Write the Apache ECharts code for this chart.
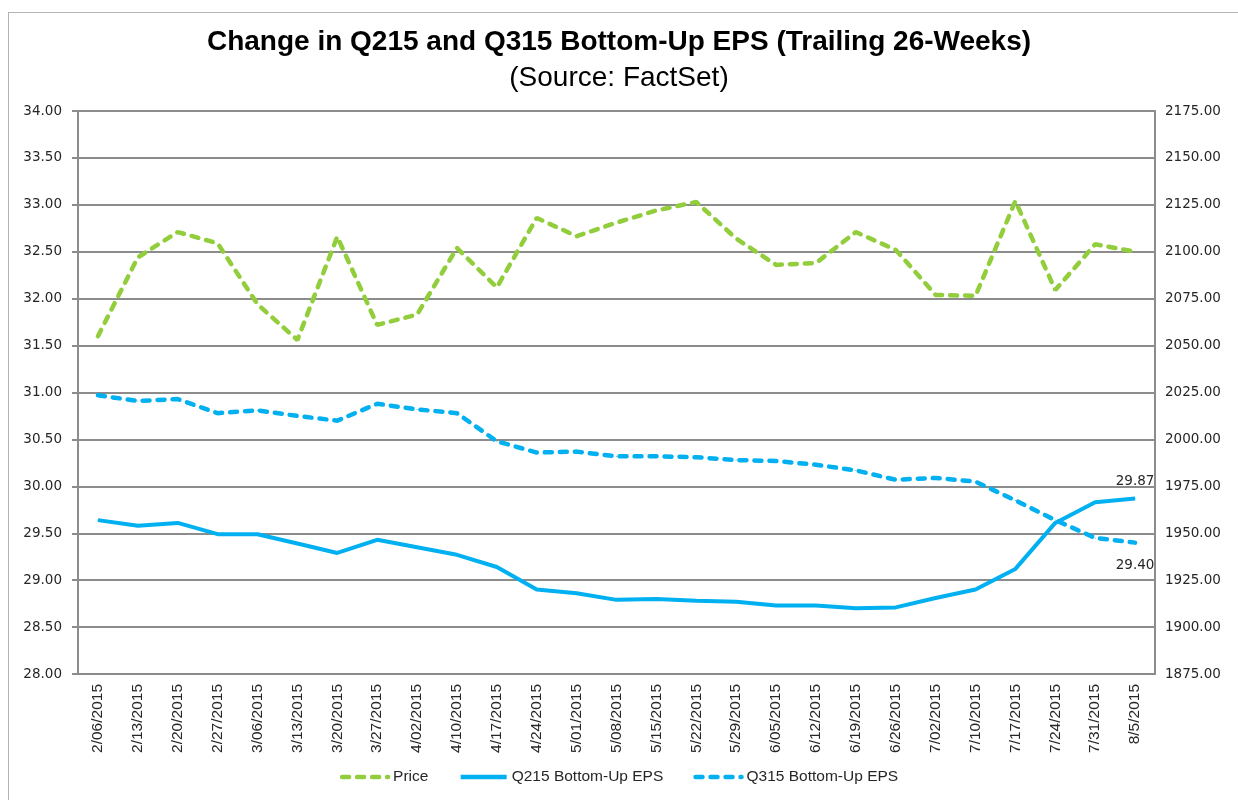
<!DOCTYPE html>
<html>
<head>
<meta charset="utf-8">
<script src="https://cdn.jsdelivr.net/npm/echarts@6/dist/echarts.min.js"></script>
<style>
    body {
        margin: 0;
        background: #fff;
    }

    .frame {
        position: absolute;
        left: 8px;
        top: 12px;
        width: 1240px;
        height: 800px;
        border: 1px solid #b4b4b4;
    }

    .chart {
        position: absolute;
        left: 0;
        top: 0;
        width: 1238px;
        height: 800px;
    }
</style>
</head>
<body>
<div class="frame"></div>
<div id="chart" class="chart"></div>
<script>
// week-ending dates (x axis)
const dates = ['2/06/2015', '2/13/2015', '2/20/2015', '2/27/2015', '3/06/2015', '3/13/2015', '3/20/2015',
    '3/27/2015', '4/02/2015', '4/10/2015', '4/17/2015', '4/24/2015', '5/01/2015', '5/08/2015', '5/15/2015',
    '5/22/2015', '5/29/2015', '6/05/2015', '6/12/2015', '6/19/2015', '6/26/2015', '7/02/2015', '7/10/2015',
    '7/17/2015', '7/24/2015', '7/31/2015', '8/5/2015']

// S&P 500 price (right axis)
const price = [2055, 2097, 2110.5, 2104.5, 2072, 2053, 2108, 2061, 2066.5, 2102, 2081, 2118, 2108.3, 2115.5,
    2122, 2126.5, 2107, 2093, 2094, 2110.5, 2101, 2077, 2076.5, 2127, 2079.6, 2104, 2100]

// bottom-up EPS (left axis)
const q215Eps = [29.64, 29.58, 29.61, 29.49, 29.49, 29.39, 29.29, 29.43, 29.35, 29.27, 29.14, 28.90, 28.86,
    28.79, 28.80, 28.78, 28.77, 28.73, 28.73, 28.70, 28.71, 28.81, 28.90, 29.12, 29.61, 29.83, 29.87]
const q315Eps = [30.97, 30.91, 30.93, 30.78, 30.81, 30.75, 30.70, 30.88, 30.82, 30.78, 30.48, 30.36, 30.37,
    30.32, 30.32, 30.31, 30.28, 30.27, 30.23, 30.17, 30.07, 30.09, 30.05, 29.85, 29.64, 29.45, 29.40]

const seriesNames = ['Price', 'Q215 Bottom-Up EPS', 'Q315 Bottom-Up EPS']

const green = '#92cd3c'
const blue = '#00b0f0'
const gridGray = '#8c8c8c'
const textColor = '#262626'
const lastIdx = dates.length - 1

// only the last point of each EPS line carries a label
const lastLabel = (p) => p.dataIndex === lastIdx ? Number(p.value).toFixed(2) : ''

const option = {
    animation: false,
    title: {
        text: 'Change in Q215 and Q315 Bottom-Up EPS (Trailing 26-Weeks)',
        subtext: '(Source: FactSet)',
        left: 'center',
        top: 23,
        itemGap: 8,
        textStyle: {
            fontFamily: 'Liberation Sans',
            fontSize: 28,
            fontWeight: 'bold',
            color: '#000'
        },
        subtextStyle: {
            fontFamily: 'Liberation Sans',
            fontSize: 28,
            color: '#000'
        }
    },
    legend: {
        data: seriesNames,
        bottom: 10,
        left: 'center',
        itemWidth: 46,
        itemHeight: 10,
        itemGap: 30,
        itemStyle: { opacity: 0 },
        lineStyle: { width: 4.5 },
        textStyle: {
            fontFamily: 'Liberation Sans',
            fontSize: 15.5,
            color: textColor
        }
    },
    grid: {
        left: 78,
        right: 83,
        top: 111,
        bottom: 126
    },
    xAxis: {
        type: 'category',
        data: dates,
        boundaryGap: true,
        axisLine: { lineStyle: { color: gridGray, width: 2 } },
        axisTick: { show: false },
        axisLabel: {
            interval: 0,
            rotate: 90,
            margin: 10,
            fontFamily: 'Liberation Sans',
            fontSize: 15.5,
            color: textColor
        }
    },
    yAxis: [
        {
            type: 'value',
            min: 28,
            max: 34,
            interval: 0.5,
            axisLine: { show: true, lineStyle: { color: gridGray, width: 2 } },
            axisTick: { show: true, length: 6, lineStyle: { color: gridGray, width: 2 } },
            splitLine: { lineStyle: { color: gridGray, width: 2 } },
            axisLabel: {
                margin: 16,
                formatter: (v) => v.toFixed(2),
                fontFamily: 'DejaVu Sans',
                fontSize: 13.5,
                color: textColor
            }
        },
        {
            type: 'value',
            min: 1875,
            max: 2175,
            interval: 25,
            axisLine: { show: true, lineStyle: { color: gridGray, width: 2 } },
            axisTick: { show: false },
            splitLine: { show: false },
            axisLabel: {
                margin: 10,
                formatter: (v) => v.toFixed(2),
                fontFamily: 'DejaVu Sans',
                fontSize: 13.5,
                color: textColor
            }
        }
    ],
    series: [
        {
            name: seriesNames[0],
            type: 'line',
            yAxisIndex: 1,
            data: price,
            symbol: 'none',
            color: green,
            lineStyle: { color: green, width: 4.5, type: [7, 8], cap: 'round' }
        },
        {
            name: seriesNames[1],
            type: 'line',
            data: q215Eps,
            symbol: 'circle',
            symbolSize: 1,
            showSymbol: true,
            color: blue,
            lineStyle: { color: blue, width: 4 },
            label: {
                show: true,
                position: 'top',
                distance: 10,
                formatter: lastLabel,
                fontFamily: 'DejaVu Sans',
                fontSize: 13.5,
                color: textColor
            }
        },
        {
            name: seriesNames[2],
            type: 'line',
            data: q315Eps,
            symbol: 'circle',
            symbolSize: 1,
            showSymbol: true,
            color: blue,
            lineStyle: { color: blue, width: 4.5, type: [7, 8], cap: 'round' },
            label: {
                show: true,
                position: 'bottom',
                distance: 15,
                formatter: lastLabel,
                fontFamily: 'DejaVu Sans',
                fontSize: 13.5,
                color: textColor
            }
        }
    ]
}

echarts.init(document.getElementById('chart')).setOption(option)
</script>
</body>
</html>
